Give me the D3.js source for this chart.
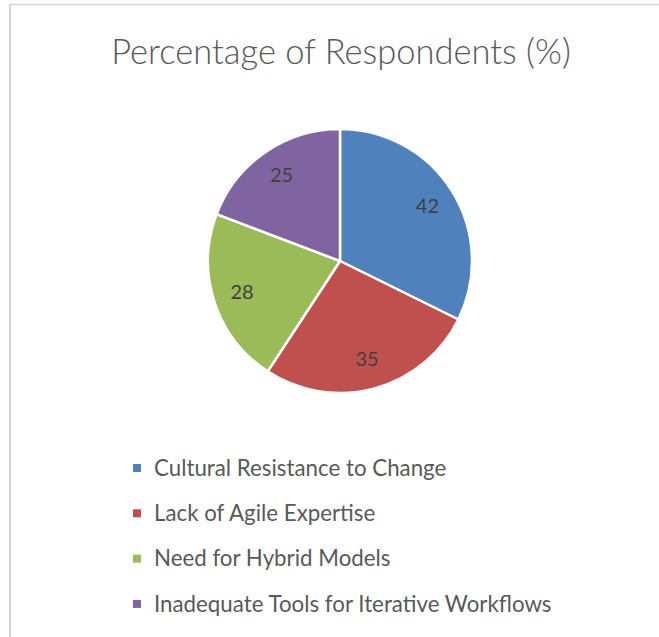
<!DOCTYPE html>
<html>
<head>
<meta charset="utf-8">
<script src="https://cdn.jsdelivr.net/npm/d3@7"></script>
<style>
  body { margin: 0; background: #fff; }
  svg { display: block; font-family: Lato, "Open Sans", sans-serif; }
</style>
</head>
<body>
<svg id="chart"></svg>
<script>
// chart data
const categories = [
  "Cultural Resistance to Change",
  "Lack of Agile Expertise",
  "Need for Hybrid Models",
  "Inadequate Tools for Iterative Workflows"
];
const values = [42, 35, 28, 25];
const colors = ["#4F81BD", "#C0504D", "#9BBB59", "#8064A2"];
const title = "Percentage of Respondents (%)";

const width = 659, height = 637;
const cx = 340, cy = 261, radius = 132;

const svg = d3.select("#chart").attr("width", width).attr("height", height);

// frame
svg.append("line").attr("x1", 9).attr("x2", width).attr("y1", 4.5).attr("y2", 4.5)
  .attr("stroke", "#d6d6d6").attr("stroke-width", 1.5);
svg.append("line").attr("x1", 10).attr("x2", 10).attr("y1", 4).attr("y2", height)
  .attr("stroke", "#d6d6d6").attr("stroke-width", 2);

svg.append("text")
  .attr("x", 341).attr("y", 64)
  .attr("text-anchor", "middle")
  .attr("font-size", 34.5)
  .attr("font-weight", 300)
  .attr("fill", "#595959")
  .text(title);

const pie = d3.pie().sort(null).value(d => d)(values);
const arc = d3.arc().innerRadius(0).outerRadius(radius);
const labelArc = d3.arc().innerRadius(radius * 0.78).outerRadius(radius * 0.78);

const g = svg.append("g").attr("transform", `translate(${cx},${cy})`);

g.selectAll("path")
  .data(pie)
  .join("path")
  .attr("d", arc)
  .attr("fill", (d, i) => colors[i])
  .attr("stroke", "#fff")
  .attr("stroke-width", 2.5);

g.selectAll(".lbl")
  .data(pie)
  .join("text")
  .attr("class", "lbl")
  .attr("transform", d => `translate(${labelArc.centroid(d)})`)
  .attr("text-anchor", "middle")
  .attr("dy", "0.3em")
  .attr("font-size", 20)
  .attr("fill", "#404040")
  .text(d => d.data);

// legend
const legend = svg.append("g").attr("transform", "translate(133,468)");
const rows = legend.selectAll("g")
  .data(categories)
  .join("g")
  .attr("transform", (d, i) => `translate(0,${i * 45.3})`);

rows.append("rect")
  .attr("x", 0).attr("y", -4)
  .attr("width", 8).attr("height", 8)
  .attr("fill", (d, i) => colors[i]);

rows.append("text")
  .attr("x", 21).attr("dy", "0.35em")
  .attr("font-size", 22.3)
  .attr("fill", "#595959")
  .text(d => d);
</script>
</body>
</html>
